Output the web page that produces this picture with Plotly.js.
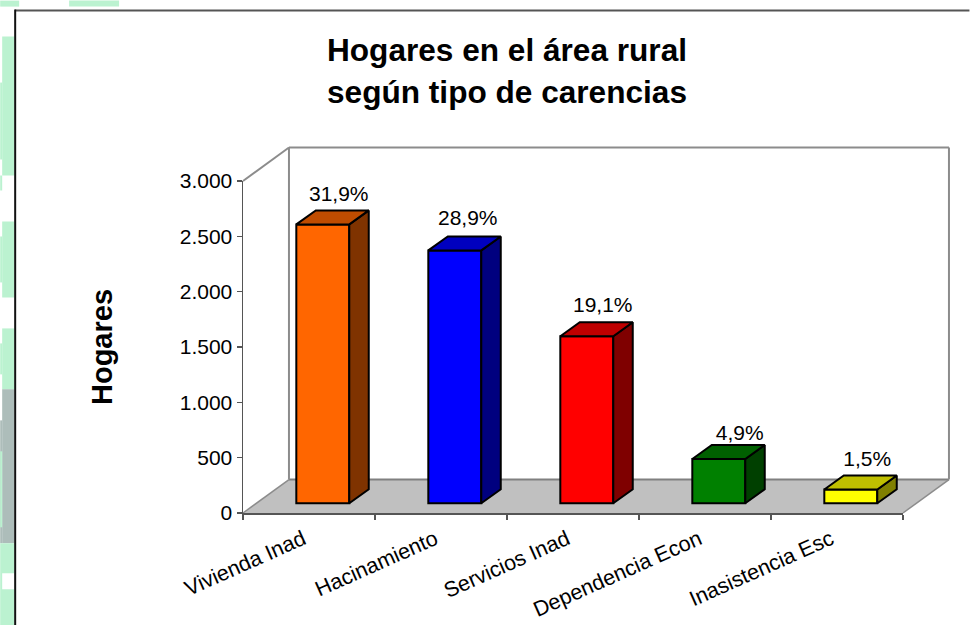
<!DOCTYPE html>
<html><head><meta charset="utf-8">
<script src="https://cdn.plot.ly/plotly-3.0.1.min.js"></script>
<style>html,body{margin:0;padding:0;background:#fff}#c{width:970px;height:625px}</style>
</head><body><div id="c"></div>
<script>
// Data
var categories = ["Vivienda Inad","Hacinamiento","Servicios Inad","Dependencia Econ","Inasistencia Esc"];
var hogares = [2520,2285,1510,400,125];
var porcentajes = [31.9,28.9,19.1,4.9,1.5];
var yTicks = [0,500,1000,1500,2000,2500,3000];
// Colours
var frontColors = ["#ff6600","#0000ff","#ff0000","#008000","#ffff00"];
var sideColors  = ["#7f3300","#00007f","#7f0000","#004000","#808000"];
var topColors   = ["#bf4c00","#0000bf","#bf0000","#006000","#bfbf00"];
// Label placement relative to each bar's back-top edge (pixels)
var labelDx = [16,13,16,21,16.5];
var labelGap = [4,6,5,0,4];
var GREEN="#bbf2d0", GREY="#adbdba", WHITE="#ffffff";

// Layout geometry (pixels)
var W=970,H=625,L=243,R=903.5,T=180.5,B=512.7;
var pw=R-L, ph=B-T, catPx=pw/5, unitPx=ph/3000;
function xp(px){return (px-L)/pw;}
function yp(py){return (B-py)/ph;}
// Depth of the box, bars
var wallDx=46, wallDy=33.5;
var barShift=13.8/catPx, barBase=9.7/unitPx, barWidth=53/catPx;
var faceDx=19.5/catPx, faceDy=14/unitPx;

var xs=categories.map(function(c,i){return i+barShift;});
var traces=[{type:"bar",x:xs,y:hogares,base:barBase,width:barWidth,
  marker:{color:frontColors,line:{color:"#000",width:2}},hoverinfo:"skip",showlegend:false}];
hogares.forEach(function(v,i){
  var x0=xs[i]-barWidth/2,x1=xs[i]+barWidth/2,y0=barBase,y1=barBase+v;
  traces.push({type:"scatter",mode:"lines",fill:"toself",fillcolor:sideColors[i],
    x:[x1,x1+faceDx,x1+faceDx,x1,x1],y:[y0,y0+faceDy,y1+faceDy,y1,y0],
    line:{color:"#000",width:2},hoverinfo:"skip",showlegend:false,cliponaxis:false});
  traces.push({type:"scatter",mode:"lines",fill:"toself",fillcolor:topColors[i],
    x:[x0,x0+faceDx,x1+faceDx,x1,x0],y:[y1,y1+faceDy,y1+faceDy,y1,y1],
    line:{color:"#000",width:2},hoverinfo:"skip",showlegend:false,cliponaxis:false});
});
traces.push({type:"scatter",mode:"text",
  x:xs.map(function(x,i){return x+labelDx[i]/catPx;}),
  y:hogares.map(function(v,i){return barBase+v+faceDy+labelGap[i]/unitPx;}),
  text:porcentajes.map(function(p){return p.toFixed(1).replace(".",",")+"%";}),
  textposition:"top center",textfont:{family:"Liberation Sans",size:21,color:"#000"},
  hoverinfo:"skip",showlegend:false,cliponaxis:false});

function rect(x0,y0,x1,y1,c){return {type:"rect",xref:"paper",yref:"paper",layer:"below",
  x0:xp(x0),x1:xp(x1),y0:yp(y0),y1:yp(y1),fillcolor:c,line:{width:0}};}
function seg(x0,y0,x1,y1,c,w){return {type:"line",xref:"paper",yref:"paper",layer:"below",
  x0:xp(x0),x1:xp(x1),y0:yp(y0),y1:yp(y1),line:{color:c,width:w}};}
var floorPath="M"+[[L,B],[R,B],[R+wallDx,B-wallDy],[L+wallDx,B-wallDy]].map(function(p){return xp(p[0])+","+yp(p[1]);}).join("L")+"Z";
var WALL="#8c8c8c";
var shapes=[
  // page background behind the chart frame
  rect(0,0,19,6,GREEN),rect(69,0,119,6,GREEN),
  rect(2,36,14,175,GREEN),rect(0,82,2,159,GREEN),rect(0,175,2,190,GREEN),
  rect(2,221,14,297,GREEN),rect(0,236,2,282,GREEN),
  rect(2,328,14,389,GREEN),rect(0,343,2,374,GREEN),
  rect(2,389,14,543,GREY),rect(0,420,2,543,GREY),rect(0,451,2,527,GREEN),
  rect(0,543,14,625,GREEN),rect(2,573,14,589,WHITE),
  // frame
  seg(15,10,970,10,"#555555",2),seg(15,9,15,625,"#111111",2),
  // box
  {type:"path",xref:"paper",yref:"paper",layer:"below",path:floorPath,fillcolor:"#c0c0c0",line:{width:0}},
  seg(L+wallDx,B-wallDy,R+wallDx,B-wallDy,"#808080",2),
  seg(L,B,L+wallDx,B-wallDy,WALL,1.5),seg(R,B,R+wallDx,B-wallDy,WALL,1.5),
  seg(L,T,L+wallDx,T-wallDy,WALL,2),
  seg(L+wallDx,T-wallDy,R+wallDx,T-wallDy,WALL,2),
  seg(L+wallDx,T-wallDy,L+wallDx,B-wallDy,WALL,2),
  seg(R+wallDx,T-wallDy,R+wallDx,B-wallDy,WALL,2)
];

var layout={width:W,height:H,autosize:false,paper_bgcolor:"#fff",plot_bgcolor:"rgba(0,0,0,0)",
  margin:{l:L,r:W-R,t:T,b:H-B,pad:0},showlegend:false,separators:",.",
  font:{family:"Liberation Sans",color:"#000"},
  title:{text:'<span style="font-size:31.6px">Hogares en el área rural<br>según tipo de carencias</span>',
    font:{family:"Liberation Sans",size:32.3,color:"#000",weight:700},
    x:507/W,xanchor:"center",y:1-61/H,yanchor:"top"},
  xaxis:{range:[-0.5,4.5],tickmode:"array",tickvals:categories.map(function(c,i){return i-6/catPx;}),ticktext:categories,
    tickangle:-24,tickfont:{family:"Liberation Sans",size:21.5,color:"#000"},
    ticks:"outside",ticklen:4,tickcolor:"rgba(0,0,0,0)",showgrid:false,zeroline:false,
    showline:true,linecolor:"#555",linewidth:1.5,
    minor:{tickmode:"array",tickvals:[-0.5,0.5,1.5,2.5,3.5,4.5],ticks:"outside",ticklen:5,tickcolor:"#555",tickwidth:1.5,showgrid:false}},
  yaxis:{range:[0,3000],tickmode:"array",tickvals:yTicks,tickformat:",d",
    tickfont:{family:"Liberation Sans",size:21,color:"#000"},
    ticks:"outside",ticklen:5,tickcolor:"#555",tickwidth:1.5,showgrid:false,zeroline:false,
    showline:true,linecolor:"#555",linewidth:1.5,
    title:{text:"Hogares",font:{family:"Liberation Sans",size:29,color:"#000",weight:700},standoff:58}},
  shapes:shapes};
Plotly.newPlot("c",traces,layout,{staticPlot:true,displayModeBar:false});
</script></body></html>
